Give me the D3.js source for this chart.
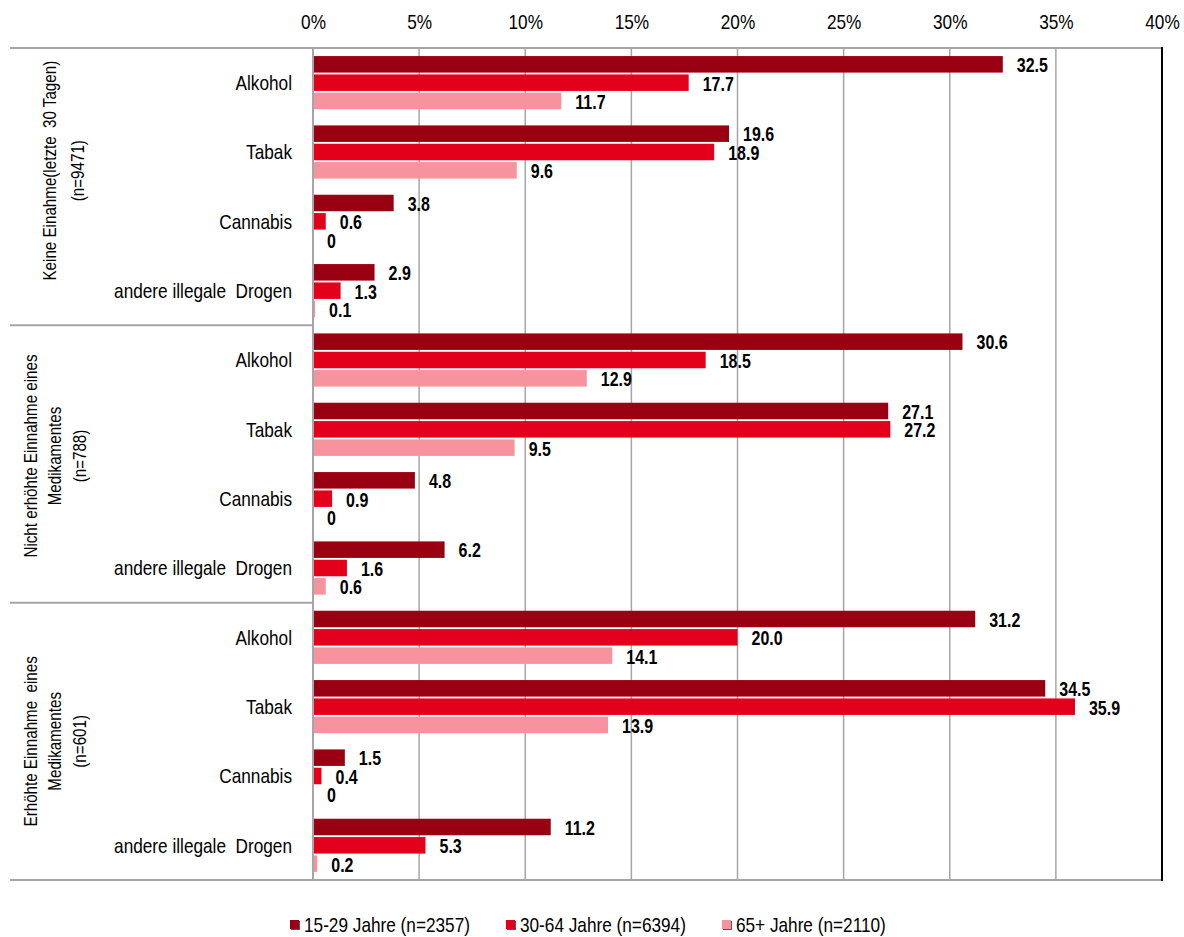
<!DOCTYPE html>
<html>
<head>
<meta charset="utf-8">
<script src="https://cdn.jsdelivr.net/npm/d3@7"></script>
<style>
  body { margin: 0; background: #fff; }
  svg text { font-family: "Liberation Sans", Arial, sans-serif; fill: #000; white-space: pre; }
  .val { font-weight: bold; font-size: 19.5px; }
</style>
</head>
<body>
<svg width="1184" height="937"></svg>
<script>
// data
const groups = [
    ["Keine Einahme(letzte  30 Tagen)", "(n=9471)"],
    ["Nicht erhöhte Einnahme eines", "Medikamentes", "(n=788)"],
    ["Erhöhte Einnahme  eines", "Medikamentes", "(n=601)"]
];
const categories = ["Alkohol", "Tabak", "Cannabis", "andere illegale  Drogen"];
const seriesNames = ["15-29 Jahre (n=2357)", "30-64 Jahre (n=6394)", "65+ Jahre (n=2110)"];
const seriesColors = ["#990011", "#e3001b", "#f7939e"];
// values[group][category] = [15-29, 30-64, 65+]
const values = [
    [[32.5, 17.7, 11.7], [19.6, 18.9, 9.6], [3.8, 0.6, 0], [2.9, 1.3, 0.1]],
    [[30.6, 18.5, 12.9], [27.1, 27.2, 9.5], [4.8, 0.9, 0], [6.2, 1.6, 0.6]],
    [[31.2, 20.0, 14.1], [34.5, 35.9, 13.9], [1.5, 0.4, 0], [11.2, 5.3, 0.2]]
];
const ticks = [0, 5, 10, 15, 20, 25, 30, 35, 40];

// squeeze text horizontally to mimic a narrow face
const NARROW = 0.82;
function narrow(sel, extra) {
    sel.attr("transform", function() {
        const x = +this.getAttribute("x") || 0,
            y = +this.getAttribute("y") || 0;
        return `translate(${x},${y})${extra || ""} scale(${NARROW},1)`;
    })
        .attr("x", 0)
        .attr("y", 0);
}

window.addEventListener('load', () => {
    const svg = d3.select("svg"),
        margin = {top: 48, right: 22, bottom: 57, left: 313},
        width = +svg.attr("width"),
        height = +svg.attr("height"),
        plotBottom = height - margin.bottom,
        plotRight = width - margin.right,
        frameLeft = 10;

    const x = d3.scaleLinear().domain([0, 40]).range([margin.left, plotRight]);
    const yGroup = d3.scaleBand().domain(d3.range(groups.length)).range([margin.top, plotBottom]);
    const yCat = d3.scaleBand().domain(d3.range(categories.length)).range([0, yGroup.bandwidth()]);
    const ySer = d3.scaleBand().domain(d3.range(seriesNames.length)).range([0, yCat.bandwidth()])
        .paddingInner(0.1).paddingOuter(0.44);

    // gridlines
    svg.append("g")
        .selectAll("line")
        .data(ticks.slice(1, -1))
        .join("line")
        .attr("x1", d => x(d)).attr("x2", d => x(d))
        .attr("y1", margin.top).attr("y2", plotBottom)
        .attr("stroke", "#a6a6a6").attr("stroke-width", 1.5);

    // tick labels on top
    const xAxis = d3.axisTop(x).tickValues(ticks).tickFormat(d => d + "%").tickSize(0).tickPadding(0);
    svg.append("g")
        .attr("class", "x axis")
        .attr("transform", "translate(0,29)")
        .call(xAxis)
        .call(g => g.select(".domain").remove())
        .selectAll("text")
        .attr("font-family", null)
        .attr("font-size", null)
        .style("font-size", "21px")
        .attr("transform", `scale(${NARROW},1)`);

    // bars
    const labelShift = [-16, -8, 0];
    groups.forEach((gName, gi) => {
        const gy = yGroup(gi);
        const gEl = svg.append("g").attr("transform", `translate(0,${gy})`);
        categories.forEach((cat, ci) => {
            const cy = yCat(ci);
            const cEl = gEl.append("g").attr("transform", `translate(0,${cy})`);
            cEl.selectAll("rect")
                .data(values[gi][ci])
                .join("rect")
                .attr("x", x(0))
                .attr("y", (d, i) => ySer(i))
                .attr("width", d => x(d) - x(0))
                .attr("height", ySer.bandwidth())
                .attr("fill", (d, i) => seriesColors[i]);
            cEl.selectAll("text.val")
                .data(values[gi][ci])
                .join("text")
                .attr("class", "val")
                .attr("x", d => x(d) + 14)
                .attr("y", (d, i) => ySer(i) + ySer.bandwidth() / 2 + 1)
                .attr("dy", "0.35em")
                .text(d => d === 0 ? "0" : d.toFixed(1))
                .call(narrow);
            cEl.append("text")
                .attr("x", 292)
                .attr("y", yCat.bandwidth() / 2)
                .attr("dy", "0.35em")
                .attr("text-anchor", "end")
                .style("font-size", "21px")
                .text(cat)
                .call(narrow);
        });

        // rotated group label
        const lineX = gName.length === 2 ? [50, 78] : [31, 55, 80];
        const cyG = gy + yGroup.bandwidth() / 2 + labelShift[gi];
        gName.forEach((line, li) => {
            svg.append("text")
                .attr("x", lineX[li])
                .attr("y", cyG)
                .attr("text-anchor", "middle")
                .attr("dy", "0.35em")
                .style("font-size", "18.5px")
                .text(line)
                .call(narrow, " rotate(-90)");
        });
    });

    // frame lines
    const frame = svg.append("g").attr("stroke", "#a6a6a6").attr("stroke-width", 2);
    frame.append("line").attr("x1", frameLeft).attr("x2", plotRight).attr("y1", margin.top).attr("y2", margin.top);
    frame.append("line").attr("x1", frameLeft).attr("x2", plotRight).attr("y1", plotBottom).attr("y2", plotBottom);
    frame.selectAll("line.sep")
        .data(d3.range(1, groups.length))
        .join("line")
        .attr("class", "sep")
        .attr("x1", frameLeft).attr("x2", margin.left)
        .attr("y1", d => yGroup(d)).attr("y2", d => yGroup(d));
    frame.append("line").attr("x1", x(0)).attr("x2", x(0)).attr("y1", margin.top).attr("y2", plotBottom);
    svg.append("line")
        .attr("x1", plotRight).attr("x2", plotRight)
        .attr("y1", margin.top - 1).attr("y2", plotBottom + 1)
        .attr("stroke", "#000").attr("stroke-width", 2);

    // legend
    const legend = svg.append("g").attr("transform", "translate(290,925)");
    let lx = 0;
    seriesNames.forEach((name, i) => {
        const item = legend.append("g").attr("transform", `translate(${lx},0)`);
        item.append("rect").attr("x", 1).attr("y", -4).attr("width", 9).attr("height", 9).attr("fill", "#555");
        item.append("rect").attr("x", 0).attr("y", -5).attr("width", 9).attr("height", 9).attr("fill", seriesColors[i]);
        const t = item.append("text")
            .attr("x", 14)
            .attr("dy", "0.35em")
            .style("font-size", "21px")
            .text(name)
            .call(narrow);
        lx += 14 + t.node().getComputedTextLength() * NARROW + 36;
    });
});
</script>
</body>
</html>
